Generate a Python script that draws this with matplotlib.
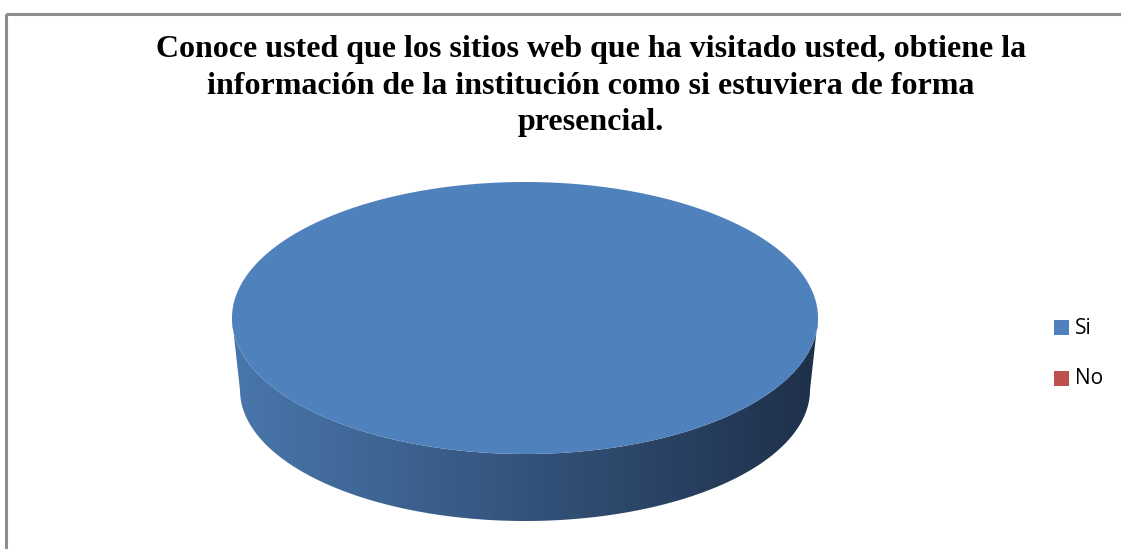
import numpy as np
import matplotlib
matplotlib.use("Agg")
import matplotlib.pyplot as plt
from matplotlib.patches import Polygon, Rectangle

title = ("Conoce usted que los sitios web que ha visitado usted, obtiene la\n"
         "información de la institución como si estuviera de forma\n"
         "presencial.")
labels = ["Si", "No"]
values = [100, 0]
colors = ["#4F81BD", "#C0504D"]

W, H = 1121, 549
fig = plt.figure(figsize=(W / 100, H / 100), dpi=100)
ax = fig.add_axes([0, 0, 1, 1])
ax.set_xlim(0, W)
ax.set_ylim(H, 0)
ax.axis("off")

# chart frame
ax.add_patch(Rectangle((5.5, 13.5), W + 10, H + 10, fill=False,
                       edgecolor="#8c8c8c", lw=2.2))

# pie geometry (pixels)
cx, cy, a, b = 525, 318, 293, 136
bcx, bcy, ba, bb = 525, 390, 285, 131

fracs = np.array(values, dtype=float) / sum(values)
start = -np.pi / 2
for frac, col in zip(fracs, colors):
    if frac <= 0:
        continue
    t0, t1 = start, start + frac * 2 * np.pi
    start = t1
    # side wall: visible part is the front half (0..pi, y down)
    segs = []
    for off in (0, 2 * np.pi, -2 * np.pi):
        lo, hi = max(t0 + off, 0), min(t1 + off, np.pi)
        if hi > lo:
            segs.append((lo, hi))
    for lo, hi in segs:
        tt = np.linspace(lo, hi, 200)
        top = np.c_[cx + a * np.cos(tt), cy + b * np.sin(tt)]
        bot = np.c_[bcx + ba * np.cos(tt), bcy + bb * np.sin(tt)][::-1]
        side = Polygon(np.vstack([top, bot]), closed=True, facecolor="none",
                       edgecolor="none")
        ax.add_patch(side)
        c = np.array(matplotlib.colors.to_rgb(col))
        left = c * np.array([0.92, 0.92, 0.91])
        right = c * np.array([0.39, 0.37, 0.39])
        g = np.linspace(0, 1, 256)[None, :, None]
        img = left[None, None, :] * (1 - g) + right[None, None, :] * g
        img = np.repeat(img, 2, axis=0)
        im = ax.imshow(img, extent=(cx - a, cx + a, cy + b + 80, cy - 10),
                       aspect="auto", interpolation="bilinear", zorder=1)
        im.set_clip_path(side)
    # top face
    tt = np.linspace(t0, t1, 400)
    pts = np.c_[cx + a * np.cos(tt), cy + b * np.sin(tt)]
    if frac < 1:
        pts = np.vstack([[cx, cy], pts])
    ax.add_patch(Polygon(pts, closed=True, facecolor=col, edgecolor="none",
                         zorder=2))

ax.set_xlim(0, W)
ax.set_ylim(H, 0)

fig.text(591 / W, 1 - 86 / H, title, ha="center", va="center",
         fontfamily="Liberation Serif", fontweight="bold", fontsize=23,
         linespacing=1.32)

# legend
for i, (lab, col) in enumerate(zip(labels, colors)):
    y = 327 + i * 51
    ax.add_patch(Rectangle((1054, y - 7.5), 15, 15, facecolor=col,
                           edgecolor="none"))
    ax.text(1075, y + 1, lab, va="center", ha="left", fontsize=15,
            fontfamily="Open Sans")

fig.savefig("out.png", dpi=100)
